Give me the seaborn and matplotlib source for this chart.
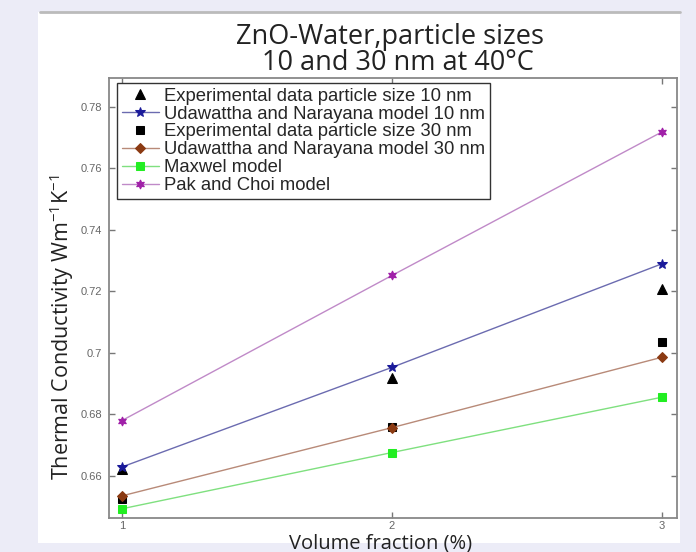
import matplotlib
matplotlib.use("Agg")
import matplotlib.pyplot as plt
import seaborn as sns
import pandas as pd
from matplotlib.patches import Rectangle
from matplotlib.lines import Line2D

sns.set_theme(style="white")
plt.rcParams['font.family'] = ['Liberation Sans', 'DejaVu Sans']
plt.rcParams['mathtext.fontset'] = 'custom'
plt.rcParams['mathtext.rm'] = 'Open Sans'
plt.rcParams['mathtext.it'] = 'Open Sans'
plt.rcParams['mathtext.default'] = 'rm'

volume_fraction = [1, 2, 3]
exp_10nm = [0.6623, 0.6919, 0.7209]
uda_10nm = [0.6629, 0.6953, 0.7290]
exp_30nm = [0.6525, 0.6760, 0.7035]
uda_30nm = [0.6535, 0.6757, 0.6986]
maxwell = [0.6493, 0.6676, 0.6856]
pak_choi = [0.6780, 0.7252, 0.7719]

y_ticks = [0.66, 0.68, 0.70, 0.72, 0.74, 0.76, 0.78]
y_tick_labels = ["0.66", "0.68", "0.7", "0.72", "0.74", "0.76", "0.78"]
x_ticks = [1, 2, 3]

fig = plt.figure(figsize=(6.96, 5.52), dpi=100)
fig.patch.set_facecolor('#ECECF7')
fig.patches.append(Rectangle((38/696, 1-543/552), (680-38)/696, (543-12)/552,
                             transform=fig.transFigure, facecolor='white',
                             edgecolor='none', zorder=-5))
fig.lines.append(Line2D([40/696, 680/696], [1-12/552, 1-12/552],
                        transform=fig.transFigure, color='#bbbbbb', lw=2, zorder=-4))

ax = fig.add_axes([109/696, 1-518/552, (677-109)/696, (518-78)/552])
ax.set_zorder(5)
ax.set_facecolor('white')

series = [
    ("Experimental data particle size 10 nm", exp_10nm, 'black', 'black', '^', '', 7),
    ("Udawattha and Narayana model 10 nm", uda_10nm, '#6b6bb0', '#1a1a9a', '*', '-', 7.5),
    ("Experimental data particle size 30 nm", exp_30nm, 'black', 'black', 's', '', 6),
    ("Udawattha and Narayana model 30 nm", uda_30nm, '#b88a78', '#8B3A12', 'D', '-', 5.5),
    ("Maxwel model", maxwell, '#7fe07f', '#22ee22', 's', '-', 6),
    ("Pak and Choi model", pak_choi, '#c08ac8', '#a020a8', (6, 1, 0), '-', 6.5),
]

for label, vals, lc, mc, mk, ls, ms in series:
    df = pd.DataFrame({"x": volume_fraction, "y": vals})
    sns.lineplot(data=df, x="x", y="y", ax=ax, color=lc, marker=mk, markersize=ms,
                 markerfacecolor=mc, markeredgecolor=mc, linestyle=ls if ls else 'none',
                 linewidth=1.0, label=label, legend=False)

ax.set_xlim(0.952, 3.055)
ax.set_ylim(0.6463, 0.7894)
ax.set_xticks(x_ticks)
ax.set_xticklabels([str(v) for v in x_ticks])
ax.set_yticks(y_ticks)
ax.set_yticklabels(y_tick_labels)
ax.tick_params(direction='in', length=4, width=1, color='#777777', labelcolor='#666666',
               labelsize=8, top=True, right=True, bottom=True, left=True, pad=5)
ax.tick_params(axis='x', pad=2.5)
for s in ax.spines.values():
    s.set_color('#888888')
    s.set_linewidth(1.3)

ax.set_xlabel("Volume fraction (%)", fontsize=14.5, family=['Open Sans', 'DejaVu Sans'],
              color='#222222')
ax.xaxis.set_label_coords((381-109)/568, -0.035)
ax.set_ylabel(r"Thermal Conductivity Wm$^{-1}$K$^{-1}$", fontsize=15.5,
              family=['Open Sans', 'DejaVu Sans'], color='#222222')
ax.yaxis.set_label_coords((76-109)/568, (518-327)/440)

fig.text(390/696, 1-37/552, "ZnO-Water,particle sizes", ha='center', va='center',
         fontsize=19.5, family=['Open Sans', 'DejaVu Sans'], color='#222222')
fig.text(398/696, 1-63/552, "10 and 30 nm at 40°C", ha='center', va='center',
         fontsize=19.5, family=['Open Sans', 'DejaVu Sans'], color='#222222')

handles, labels = ax.get_legend_handles_labels()
leg = ax.legend(handles, labels, loc='upper left', bbox_to_anchor=(8/568, 1-5/440),
                fontsize=13.3, frameon=True, fancybox=False, framealpha=1,
                edgecolor='#333333', borderpad=0.25, labelspacing=0.05,
                handlelength=2.0, handletextpad=0.3, borderaxespad=0)
leg.get_frame().set_linewidth(1.0)

fig.savefig("out.png", dpi=100, facecolor=fig.get_facecolor())
